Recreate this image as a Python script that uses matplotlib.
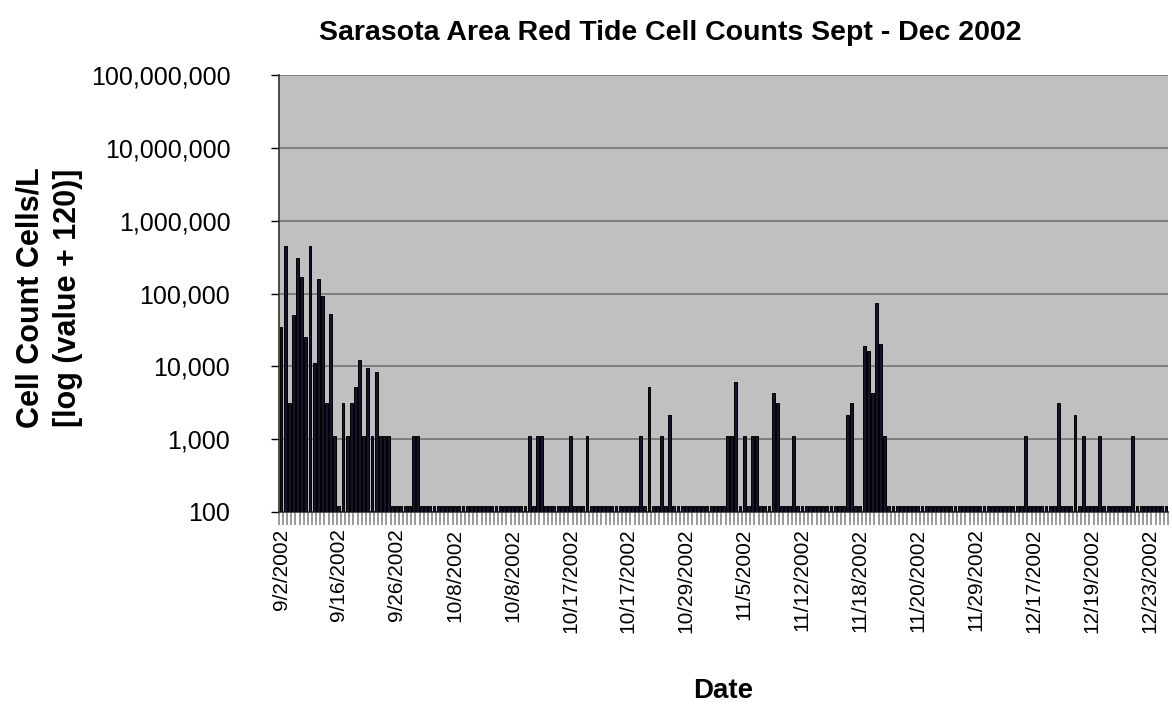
import numpy as np
import matplotlib.pyplot as plt
from matplotlib.ticker import FuncFormatter, FixedLocator

plt.rcParams['font.family'] = ['Liberation Sans', 'DejaVu Sans']

# Samples (one category per sample), only non-zero counts listed; all others are 0
n_samples = 215
sample_index = [0, 1, 2, 3, 4, 5, 6, 7, 8, 9, 10, 11, 12, 13, 15, 16, 17, 18, 19,
                20, 21, 22, 23, 24, 25, 26, 32, 33, 60, 62, 63, 70, 74, 87, 89,
                92, 94, 108, 109, 110, 112, 114, 115, 119, 120, 124, 137, 138,
                141, 142, 143, 144, 145, 146, 180, 188, 192, 194, 198, 206]
cell_count = [35000, 450000, 3000, 50000, 310000, 170000, 25000, 450000, 11000,
              160000, 92000, 3000, 52000, 1000, 3000, 1000, 3000, 5000, 12000,
              1000, 9500, 1000, 8300, 1000, 1000, 1000, 1000, 1000, 1000, 1000,
              1000, 1000, 1000, 1000, 5000, 1000, 2000, 1000, 1000, 6000, 1000,
              1000, 1000, 4200, 3000, 1000, 2000, 3000, 19000, 16000, 4200,
              74000, 20000, 1000, 1000, 3000, 2000, 1000, 1000, 1000]

date_labels = ['9/2/2002', '9/16/2002', '9/26/2002', '10/8/2002', '10/8/2002',
               '10/17/2002', '10/17/2002', '10/29/2002', '11/5/2002', '11/12/2002',
               '11/18/2002', '11/20/2002', '11/29/2002', '12/17/2002', '12/19/2002',
               '12/23/2002']
label_step = 14

counts = np.zeros(n_samples)
counts[sample_index] = cell_count
plotted = counts + 120  # log (value + 120)

fig = plt.figure(figsize=(11.72, 7.09), dpi=100)
ax = fig.add_axes([0.238, 0.278, 0.7586, 0.616])
ax.set_facecolor('#c0c0c0')

x = np.arange(n_samples)
ax.bar(x, plotted, width=0.7, bottom=0, color='#14142a', edgecolor='black',
       linewidth=0.7, zorder=3)

ax.set_yscale('log')
ax.set_ylim(100, 1e8)
ax.set_xlim(-0.5, n_samples - 0.5)
ax.set_yticks([10 ** k for k in range(2, 9)])
ax.yaxis.set_minor_locator(FixedLocator([]))
ax.yaxis.set_major_formatter(FuncFormatter(lambda v, p: f'{int(round(v)):,}'))
ax.grid(axis='y', color='#7a7a7a', linewidth=1.3, zorder=1)

label_pos = np.arange(len(date_labels)) * label_step
ax.set_xticks(label_pos)
ax.set_xticklabels(date_labels, rotation=90, fontsize=15)
ax.xaxis.set_minor_locator(FixedLocator(np.arange(n_samples + 1) - 0.5))
ax.tick_params(axis='x', which='major', length=0, pad=12)
ax.tick_params(axis='x', which='minor', length=9, width=1.2, color='#8a8a8a')
ax.tick_params(axis='y', which='major', length=6, width=1, labelsize=18, pad=29)

for side in ['top', 'right']:
    ax.spines[side].set_visible(False)
ax.spines['left'].set_color('#333333')
ax.spines['bottom'].set_color('#333333')
ax.spines['left'].set_linewidth(1.2)
ax.spines['bottom'].set_linewidth(1.2)

fig.text(0.572, 0.953, 'Sarasota Area Red Tide Cell Counts Sept - Dec 2002',
         ha='center', va='center', fontsize=20.5, fontweight='bold')
fig.text(0.042, 0.58, 'Cell Count Cells/L\n[log (value + 120)]', ha='center',
         va='center', rotation=90, fontsize=22, fontweight='bold', linespacing=1.3)
ax.set_xlabel('Date', fontsize=20, fontweight='bold', labelpad=32)

fig.savefig('out.png', dpi=100)
